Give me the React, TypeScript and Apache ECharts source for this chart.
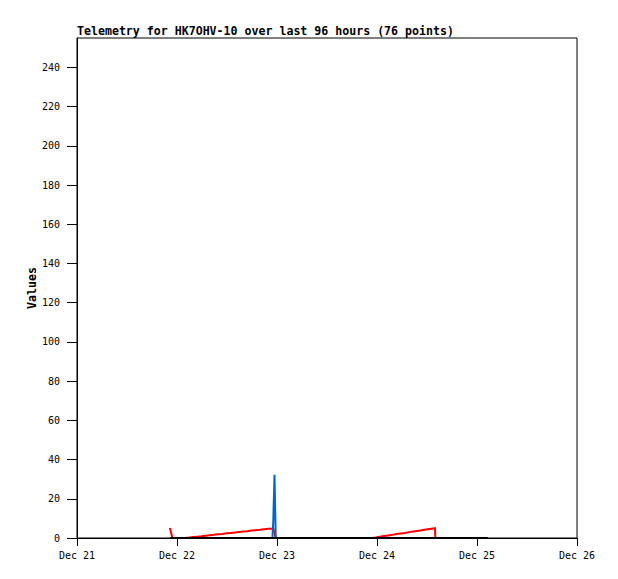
import React, { useEffect, useRef } from "react";
import * as echarts from "echarts";

// Hours since Dec 21 00:00
const times = [
  22.3, 22.9,
  25.9, 26.9, 27.9, 28.9, 29.9, 30.9, 31.9, 32.9, 33.9, 34.9, 35.9, 36.9, 37.9, 38.9, 39.9, 40.9, 41.9, 42.9, 43.9, 44.9, 45.9, 46.9, 47.1,
  47.4, 47.7,
  48.8, 49.9, 51.0, 52.1, 53.2, 54.3, 55.4, 56.5, 57.6, 58.7, 59.8, 60.9, 62.0, 63.1, 64.2, 65.3, 66.4, 67.5, 68.6, 69.7,
  70.7, 71.7, 72.7, 73.7, 74.7, 75.7, 76.7, 77.7, 78.7, 79.7, 80.7, 81.7, 82.7, 83.7, 84.7, 85.9,
  86.0, 87.0, 88.0, 89.0, 90.0, 91.0, 92.0, 93.0, 94.0, 95.0, 96.0, 97.0, 98.6,
];

const redValues = [
  5.1, 0,
  0, 0.2, 0.5, 0.7, 0.9, 1.2, 1.4, 1.6, 1.9, 2.1, 2.4, 2.6, 2.8, 3.1, 3.3, 3.5, 3.8, 4.0, 4.2, 4.5, 4.7, 4.9, 5.0,
  2.6, 0,
  0, 0, 0, 0, 0, 0, 0, 0, 0, 0, 0, 0, 0, 0, 0, 0, 0, 0, 0, 0,
  0, 0.3, 0.7, 1.0, 1.3, 1.6, 2.0, 2.3, 2.6, 3.0, 3.3, 3.6, 3.9, 4.3, 4.6, 5.0,
  0, 0, 0, 0, 0, 0, 0, 0, 0, 0, 0, 0, 0,
];

const blueValues = [
  0, 0,
  0, 0, 0, 0, 0, 0, 0, 0, 0, 0, 0, 0, 0, 0, 0, 0, 0, 0, 0, 0, 0, 0, 8.3,
  32.3, 0,
  0, 0, 0, 0, 0, 0, 0, 0, 0, 0, 0, 0, 0, 0, 0, 0, 0, 0, 0, 0,
  0, 0, 0, 0, 0, 0, 0, 0, 0, 0, 0, 0, 0, 0, 0, 0,
  0, 0, 0, 0, 0, 0, 0, 0, 0, 0, 0, 0, 0,
];

const blackValues = [
  0, 0,
  0, 0, 0, 0, 0, 0, 0, 0, 0, 0, 0, 0, 0, 0, 0, 0, 0, 0, 0, 0, 0, 0, 0,
  0, 0,
  0, 0, 0, 0, 0, 0, 0, 0, 0, 0, 0, 0, 0, 0, 0, 0, 0, 0, 0, 0,
  0, 0, 0, 0, 0, 0, 0, 0, 0, 0, 0, 0, 0, 0, 0, 0,
  0, 0, 0, 0, 0, 0, 0, 0, 0, 0, 0, 0, 0,
];

const xTickLabels = ["Dec 21", "Dec 22", "Dec 23", "Dec 24", "Dec 25", "Dec 26"];
const yTicks = [0, 20, 40, 60, 80, 100, 120, 140, 160, 180, 200, 220, 240];

const FONT = "DejaVu Sans Mono";

export default function App() {
  const ref = useRef<HTMLDivElement>(null);
  useEffect(() => {
    if (!ref.current) return;
    const chart = echarts.init(ref.current, null, { renderer: "svg" });
    const pair = (vals: number[]) => times.map((t, i) => [t, vals[i]]);
    const line = (vals: number[], color: string) => ({
      type: "line",
      data: pair(vals),
      showSymbol: false,
      symbol: "none",
      lineStyle: { color, width: 2, join: "miter", cap: "butt" },
      itemStyle: { color },
      silent: true,
    });
    chart.setOption({
      animation: false,
      backgroundColor: "#ffffff",
      title: {
        text: "Telemetry for HK7OHV-10 over last 96 hours (76 points)",
        left: 77,
        top: 25,
        padding: 0,
        textStyle: { fontFamily: FONT, fontSize: 11.6, fontWeight: "bold", color: "#000" },
      },
      grid: {
        left: 77,
        right: 41,
        top: 38,
        bottom: 41,
        show: true,
        borderColor: "#000",
        borderWidth: 1,
        backgroundColor: "#fff",
      },
      xAxis: {
        type: "value",
        min: 0,
        max: 120,
        interval: 24,
        axisLine: { show: true, lineStyle: { color: "#000", width: 1 } },
        axisTick: { show: true, inside: false, length: 8, lineStyle: { color: "#000" } },
        axisLabel: {
          margin: 12,
          color: "#000",
          fontFamily: FONT,
          fontSize: 10,
          formatter: (v: number) => xTickLabels[Math.round(v / 24)] ?? "",
        },
        splitLine: { show: false },
      },
      yAxis: {
        type: "value",
        min: 0,
        max: 255,
        interval: 20,
        name: "Values",
        nameLocation: "middle",
        nameRotate: 90,
        nameGap: 39,
        nameMoveOverlap: false,
        nameTextStyle: { fontFamily: FONT, fontSize: 11.6, fontWeight: "bold", color: "#000" },
        axisLine: { show: true, lineStyle: { color: "#000", width: 1 } },
        axisTick: { show: true, inside: false, length: 10, lineStyle: { color: "#000" }, customValues: yTicks },
        axisLabel: {
          margin: 17,
          color: "#000",
          fontFamily: FONT,
          fontSize: 10,
          customValues: yTicks,
        },
        splitLine: { show: false },
      },
      series: [
        line(redValues, "#ff0000"),
        line(blueValues, "#0066cc"),
        line(blackValues, "#000000"),
      ],
    });
    return () => chart.dispose();
  }, []);
  return (
    <div
      ref={ref}
      style={{ position: "absolute", left: 0, top: 0, width: 618, height: 579 }}
    />
  );
}
